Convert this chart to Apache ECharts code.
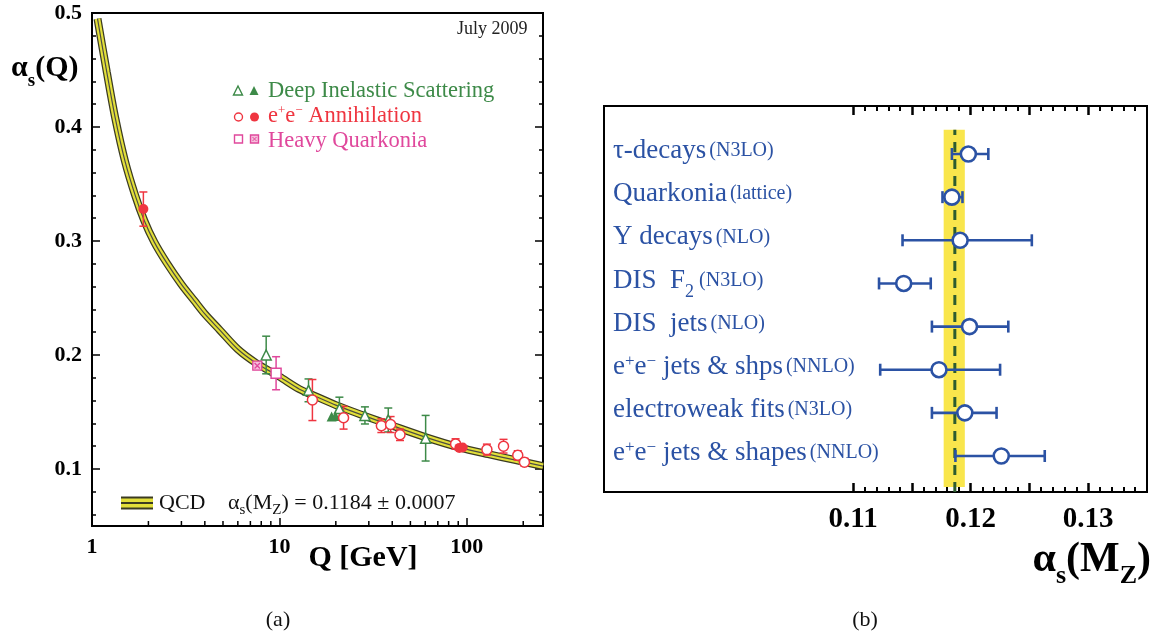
<!DOCTYPE html>
<html>
<head>
<meta charset="utf-8">
<title>alpha_s running</title>
<script src="https://cdn.jsdelivr.net/npm/echarts@6/dist/echarts.min.js"></script>
<style>
  html, body { margin: 0; padding: 0; background: #fff; }
  #main { width: 1157px; height: 637px; }
</style>
</head>
<body>
<div id="main"></div>
<script>
// ---------- (a) alpha_s(Q) ----------
// QCD band
var qcdQ = [1.07, 1.2, 1.33, 1.5, 1.7, 1.9, 2.15, 2.5, 3, 3.5, 4, 4.8, 6, 7.5, 10, 12.8, 16, 20, 28, 40, 60, 91, 130, 180, 255];
var qcdA = [0.495, 0.448, 0.408, 0.370, 0.340, 0.318, 0.299, 0.281, 0.262, 0.248, 0.236, 0.222, 0.205, 0.193, 0.181, 0.170, 0.163, 0.156, 0.147, 0.138, 0.128, 0.119, 0.113, 0.108, 0.1025];

// deep inelastic scattering
var disOpenQ = [8.5, 14.3, 20.9, 28.6, 38.1, 60.3];
var disOpenA = [0.200, 0.169, 0.153, 0.147, 0.143, 0.127];
var disOpenE = [0.0165, 0.010, 0.010, 0.0075, 0.0105, 0.020];
var disFullQ = [19.0, 19.9];
var disFullA = [0.146, 0.1465];

// e+e- annihilation
var eeOpenQ = [15.0, 22.0, 35.0, 39.2, 44.0, 87.1, 128, 157, 187, 203];
var eeOpenA = [0.1605, 0.145, 0.138, 0.139, 0.130, 0.122, 0.117, 0.120, 0.112, 0.106];
var eeOpenE = [0.018, 0.010, 0.006, 0.007, 0.005, 0.0045, 0.0048, 0.006, 0.004, 0.0033];
var eeFullQ = [1.88, 91.2, 95.0];
var eeFullA = [0.328, 0.1185, 0.1188];
var eeFullE = [0.015, 0, 0];

// heavy quarkonia
var hqOpenQ = [9.6];
var hqOpenA = [0.184];
var hqOpenE = [0.0145];
var hqCrossQ = [7.62];
var hqCrossA = [0.1906];

var xMinorTicksA = [2, 3, 4, 5, 6, 7, 8, 9, 20, 30, 40, 50, 60, 70, 80, 90, 200];
var xLabelsA = [1, 10, 100];
var yMajorA = [0.1, 0.2, 0.3, 0.4, 0.5];
var yMinorA = [0.06, 0.08, 0.12, 0.14, 0.16, 0.18, 0.22, 0.24, 0.26, 0.28, 0.32, 0.34, 0.36, 0.38, 0.42, 0.44, 0.46, 0.48];

// ---------- (b) alpha_s(MZ) summary ----------
var measLabels = [
  '{m|τ-decays} {s|(N3LO)}',
  '{m|Quarkonia} {s|(lattice)}',
  '{m|Υ decays} {s|(NLO)}',
  '{m|DIS  F}{sub|2}{s| (N3LO)}',
  '{m|DIS  jets} {s|(NLO)}',
  '{m|e}{sup|+}{m|e}{sup|−}{m| jets & shps} {s|(NNLO)}',
  '{m|electroweak fits} {s|(N3LO)}',
  '{m|e}{sup|+}{m|e}{sup|−}{m| jets & shapes} {s|(NNLO)}'
];
var measVal = [0.1198, 0.1184, 0.1191, 0.1143, 0.1199, 0.1173, 0.1195, 0.1226];
var measLo  = [0.1184, 0.1176, 0.1142, 0.1122, 0.1167, 0.1123, 0.1167, 0.1187];
var measHi  = [0.1215, 0.1193, 0.1252, 0.1166, 0.1232, 0.1225, 0.1222, 0.1263];
var worldAvg = 0.11865;
var bandLo = 0.1177, bandHi = 0.1195;
var xMajorB = [0.11, 0.115, 0.12, 0.125, 0.13];
var xMinorB = [0.111, 0.112, 0.113, 0.114, 0.116, 0.117, 0.118, 0.119, 0.121, 0.122, 0.123, 0.124,
               0.126, 0.127, 0.128, 0.129, 0.131, 0.132, 0.133, 0.134];
var xLabelsB = [0.11, 0.12, 0.13];

var SERIF = '"Liberation Serif", "Times New Roman", serif';
var GREEN = '#3d8a48', RED = '#ef3540', PINK = '#e0489c', BLUE = '#2b52a4';

var myChart = echarts.init(document.getElementById('main'));

function pts(xs, ys) { return xs.map(function (x, i) { return [x, ys[i]]; }); }
function vbars(xs, ys, es) {
  var out = [];
  xs.forEach(function (x, i) { if (es[i] > 0) out.push([x, ys[i] - es[i], ys[i] + es[i]]); });
  return out;
}
// vertical error bar with caps
function vErr(color) {
  return function (params, api) {
    var top = api.coord([api.value(0), api.value(2)]);
    var bot = api.coord([api.value(0), api.value(1)]);
    var w = 4, st = { stroke: color, lineWidth: 1.5 };
    return { type: 'group', children: [
      { type: 'line', shape: { x1: top[0], y1: top[1], x2: bot[0], y2: bot[1] }, style: st },
      { type: 'line', shape: { x1: top[0] - w, y1: top[1], x2: top[0] + w, y2: top[1] }, style: st },
      { type: 'line', shape: { x1: bot[0] - w, y1: bot[1], x2: bot[0] + w, y2: bot[1] }, style: st }
    ]};
  };
}
// horizontal error bar with caps
function hErr(params, api) {
  var l = api.coord([api.value(0), api.value(2)]);
  var r = api.coord([api.value(1), api.value(2)]);
  var h = 6, st = { stroke: BLUE, lineWidth: 2.6 };
  return { type: 'group', children: [
    { type: 'line', shape: { x1: l[0], y1: l[1], x2: r[0], y2: r[1] }, style: st },
    { type: 'line', shape: { x1: l[0], y1: l[1] - h, x2: l[0], y2: l[1] + h }, style: st },
    { type: 'line', shape: { x1: r[0], y1: r[1] - h, x2: r[0], y2: r[1] + h }, style: st }
  ]};
}

var nRows = measVal.length;
var rowMin = 0.1655, rowMax = 9.113, bandTop = 8.56, bandBot = 0.28;
var measBars = measVal.map(function (v, i) { return [measLo[i], measHi[i], nRows - i]; });
var measPts = measVal.map(function (v, i) { return [v, nRows - i]; });

var tickStyle = { color: '#000', width: 1.5 };
var option = {
  animation: false,
  grid: [
    { left: 92, top: 13, width: 451, height: 513, show: true, borderColor: '#000', borderWidth: 2, backgroundColor: 'transparent' },
    { left: 604, top: 106, width: 543, height: 386, show: true, borderColor: '#000', borderWidth: 2, backgroundColor: 'transparent' }
  ],
  xAxis: [
    { gridIndex: 0, type: 'log', logBase: 10, min: 1, max: 255, position: 'bottom',
      axisLine: { show: false }, splitLine: { show: false },
      axisTick: { inside: true, length: 8, lineStyle: tickStyle },
      axisLabel: { margin: 10, color: '#000', fontFamily: SERIF, fontWeight: 'bold', fontSize: 22,
        showMaxLabel: false,
        formatter: function (v) { return xLabelsA.indexOf(v) >= 0 ? String(v) : ''; } } },
    { gridIndex: 1, type: 'value', min: 0.0888, max: 0.135, position: 'bottom',
      axisLine: { show: false }, splitLine: { show: false },
      axisTick: { inside: true, length: 9, customValues: xMajorB, lineStyle: { color: '#000', width: 2.5 } },
      axisLabel: { customValues: xLabelsB, margin: 13, color: '#000', fontFamily: SERIF, fontWeight: 'bold', fontSize: 29,
        formatter: function (v) { return v.toFixed(2); } } },
    { gridIndex: 1, type: 'value', min: 0.0888, max: 0.135, position: 'bottom',
      axisLine: { show: false }, splitLine: { show: false }, axisLabel: { show: false },
      axisTick: { inside: true, length: 5, customValues: xMinorB, lineStyle: { color: '#000', width: 2 } } },
    { gridIndex: 1, type: 'value', min: 0.0888, max: 0.135, position: 'top',
      axisLine: { show: false }, splitLine: { show: false }, axisLabel: { show: false },
      axisTick: { inside: true, length: 9, customValues: xMajorB, lineStyle: { color: '#000', width: 2.5 } } },
    { gridIndex: 1, type: 'value', min: 0.0888, max: 0.135, position: 'top',
      axisLine: { show: false }, splitLine: { show: false }, axisLabel: { show: false },
      axisTick: { inside: true, length: 5, customValues: xMinorB, lineStyle: { color: '#000', width: 2 } } }
  ],
  yAxis: [
    { gridIndex: 0, type: 'value', min: 0.05, max: 0.5, position: 'left',
      axisLine: { show: false }, splitLine: { show: false },
      axisTick: { inside: true, length: 8, customValues: yMajorA, lineStyle: tickStyle },
      axisLabel: { customValues: yMajorA, margin: 10, color: '#000', fontFamily: SERIF, fontWeight: 'bold', fontSize: 22,
        formatter: function (v) { return v.toFixed(1); } } },
    { gridIndex: 0, type: 'value', min: 0.05, max: 0.5, position: 'left',
      axisLine: { show: false }, splitLine: { show: false }, axisLabel: { show: false },
      axisTick: { inside: true, length: 4, customValues: yMinorA, lineStyle: tickStyle } },
    { gridIndex: 0, type: 'value', min: 0.05, max: 0.5, position: 'right',
      axisLine: { show: false }, splitLine: { show: false }, axisLabel: { show: false },
      axisTick: { inside: true, length: 8, customValues: yMajorA, lineStyle: tickStyle } },
    { gridIndex: 0, type: 'value', min: 0.05, max: 0.5, position: 'right',
      axisLine: { show: false }, splitLine: { show: false }, axisLabel: { show: false },
      axisTick: { inside: true, length: 4, customValues: yMinorA, lineStyle: tickStyle } },
    { gridIndex: 1, type: 'value', min: rowMin, max: rowMax, position: 'left',
      axisLine: { show: false }, splitLine: { show: false }, axisTick: { show: false },
      axisLabel: { inside: true, margin: 9, customValues: [1, 2, 3, 4, 5, 6, 7, 8],
        padding: [0, 0, 6, 0],
        formatter: function (v) { return measLabels[nRows - v]; },
        color: BLUE, fontFamily: SERIF,
        rich: {
          m: { fontSize: 27, fontFamily: SERIF, color: BLUE },
          s: { fontSize: 20, fontFamily: SERIF, color: BLUE },
          sup: { fontSize: 17, fontFamily: SERIF, color: BLUE, verticalAlign: 'top' },
          sub: { fontSize: 18, fontFamily: SERIF, color: BLUE, verticalAlign: 'bottom', padding: [0, 0, -7, 0] }
        } } }
  ],
  series: [
    // QCD band: dark edges, yellow fill, dark centre line
    { type: 'line', z: 1, xAxisIndex: 0, yAxisIndex: 0, data: pts(qcdQ, qcdA), smooth: 0.3, symbol: 'none', silent: true,
      lineStyle: { color: '#3b3b22', width: 8 } },
    { type: 'line', z: 1, xAxisIndex: 0, yAxisIndex: 0, data: pts(qcdQ, qcdA), smooth: 0.3, symbol: 'none', silent: true,
      lineStyle: { color: '#e2df3a', width: 5.5 } },
    { type: 'line', z: 1, xAxisIndex: 0, yAxisIndex: 0, data: pts(qcdQ, qcdA), smooth: 0.3, symbol: 'none', silent: true,
      lineStyle: { color: '#4e4e42', width: 1.2 } },
    // error bars
    { type: 'custom', z: 3, xAxisIndex: 0, yAxisIndex: 0, renderItem: vErr(GREEN), data: vbars(disOpenQ, disOpenA, disOpenE), encode: { x: 0, y: [1, 2] }, silent: true },
    { type: 'custom', z: 3, xAxisIndex: 0, yAxisIndex: 0, renderItem: vErr(RED), data: vbars(eeOpenQ, eeOpenA, eeOpenE), encode: { x: 0, y: [1, 2] }, silent: true },
    { type: 'custom', z: 3, xAxisIndex: 0, yAxisIndex: 0, renderItem: vErr(RED), data: vbars(eeFullQ, eeFullA, eeFullE), encode: { x: 0, y: [1, 2] }, silent: true },
    { type: 'custom', z: 3, xAxisIndex: 0, yAxisIndex: 0, renderItem: vErr(PINK), data: vbars(hqOpenQ, hqOpenA, hqOpenE), encode: { x: 0, y: [1, 2] }, silent: true },
    // markers
    { type: 'scatter', z: 4, xAxisIndex: 0, yAxisIndex: 0, data: pts(disOpenQ, disOpenA), symbol: 'triangle', symbolSize: 10,
      itemStyle: { color: '#fff', borderColor: GREEN, borderWidth: 1.5, opacity: 1 } },
    { type: 'scatter', z: 4, xAxisIndex: 0, yAxisIndex: 0, data: pts(disFullQ, disFullA), symbol: 'triangle', symbolSize: 10,
      itemStyle: { color: GREEN, opacity: 1 } },
    { type: 'scatter', z: 4, xAxisIndex: 0, yAxisIndex: 0, data: pts(eeOpenQ, eeOpenA), symbol: 'circle', symbolSize: 10,
      itemStyle: { color: '#fff', borderColor: RED, borderWidth: 1.5, opacity: 1 } },
    { type: 'scatter', z: 4, xAxisIndex: 0, yAxisIndex: 0, data: pts(eeFullQ, eeFullA), symbol: 'circle', symbolSize: 10,
      itemStyle: { color: RED, opacity: 1 } },
    { type: 'scatter', z: 4, xAxisIndex: 0, yAxisIndex: 0, data: pts(hqOpenQ, hqOpenA), symbol: 'rect', symbolSize: 10,
      itemStyle: { color: '#fff', borderColor: PINK, borderWidth: 1.5, opacity: 1 } },
    { type: 'scatter', z: 4, xAxisIndex: 0, yAxisIndex: 0, data: pts(hqCrossQ, hqCrossA),
      symbol: 'path://M0,0H10V10H0Z M2,2L8,8 M8,2L2,8', symbolSize: 9,
      itemStyle: { color: '#f6bfdc', borderColor: PINK, borderWidth: 1.3, opacity: 1 } },
    // minor log ticks on the bottom axis of (a)
    { type: 'scatter', z: 4, xAxisIndex: 0, yAxisIndex: 0, silent: true, clip: false,
      data: xMinorTicksA.map(function (q) { return [q, 0.05]; }),
      symbol: 'rect', symbolSize: [1.5, 5], symbolOffset: [0, -2.5], itemStyle: { color: '#000', opacity: 1 } },

    // ---- (b) ----
    { type: 'custom', z: 1, xAxisIndex: 1, yAxisIndex: 4, silent: true,
      data: [[bandLo, bandHi, bandBot, bandTop]], encode: { x: [0, 1], y: [2, 3] },
      renderItem: function (params, api) {
        var p1 = api.coord([api.value(0), api.value(3)]);
        var p2 = api.coord([api.value(1), api.value(2)]);
        return { type: 'rect', shape: { x: p1[0], y: p1[1], width: p2[0] - p1[0], height: p2[1] - p1[1] },
                 style: { fill: '#f9e64c' } };
      } },
    { type: 'line', z: 2, xAxisIndex: 1, yAxisIndex: 4, silent: true, symbol: 'none',
      data: [[worldAvg, rowMin], [worldAvg, bandTop]],
      lineStyle: { color: '#2d5c2f', width: 3, type: [10, 7] } },
    { type: 'custom', z: 3, xAxisIndex: 1, yAxisIndex: 4, renderItem: hErr, data: measBars, encode: { x: [0, 1], y: 2 }, silent: true },
    { type: 'scatter', z: 4, xAxisIndex: 1, yAxisIndex: 4, data: measPts, symbol: 'circle', symbolSize: 15,
      itemStyle: { color: '#fff', borderColor: BLUE, borderWidth: 2.6, opacity: 1 } }
  ],
  graphic: [
    // y-axis title of (a)
    { type: 'text', x: 11, y: 68, style: { text: '{a|α}{s|s}{a|(Q)}', verticalAlign: 'middle', fill: '#000',
        rich: { a: { fontSize: 30, fontWeight: 'bold', fontFamily: SERIF, fill: '#000' },
                s: { fontSize: 19, fontWeight: 'bold', fontFamily: SERIF, fill: '#000', verticalAlign: 'bottom', padding: [0, 0, -8, 0] } } } },
    { type: 'text', x: 457, y: 29, style: { text: 'July 2009', fontSize: 18, fontFamily: SERIF, fill: '#222', verticalAlign: 'middle' } },
    // legend of (a)
    { type: 'polygon', shape: { points: [[238, 86], [233.5, 95], [242.5, 95]] }, style: { fill: '#fff', stroke: GREEN, lineWidth: 1.4 } },
    { type: 'polygon', shape: { points: [[254, 86], [249.5, 95], [258.5, 95]] }, style: { fill: GREEN } },
    { type: 'text', x: 268, y: 91, style: { text: 'Deep Inelastic Scattering', fontSize: 22.5, fontFamily: SERIF, fill: GREEN, verticalAlign: 'middle' } },
    { type: 'circle', shape: { cx: 238.5, cy: 117, r: 4 }, style: { fill: '#fff', stroke: RED, lineWidth: 1.4 } },
    { type: 'circle', shape: { cx: 254.5, cy: 117, r: 4.5 }, style: { fill: RED } },
    { type: 'text', x: 268, y: 116, style: { text: 'e{p|+}e{p|−} Annihilation', fontSize: 22.5, fontFamily: SERIF, fill: RED, verticalAlign: 'middle',
        rich: { p: { fontSize: 13, fontFamily: SERIF, fill: RED, verticalAlign: 'top' } } } },
    { type: 'rect', shape: { x: 234.5, y: 135, width: 8, height: 8 }, style: { fill: '#fff', stroke: PINK, lineWidth: 1.4 } },
    { type: 'rect', shape: { x: 250.5, y: 135, width: 8, height: 8 }, style: { fill: '#f6bfdc', stroke: PINK, lineWidth: 1.4 } },
    { type: 'line', shape: { x1: 252.5, y1: 137, x2: 256.5, y2: 141 }, style: { stroke: PINK, lineWidth: 1 } },
    { type: 'line', shape: { x1: 256.5, y1: 137, x2: 252.5, y2: 141 }, style: { stroke: PINK, lineWidth: 1 } },
    { type: 'text', x: 268, y: 141, style: { text: 'Heavy Quarkonia', fontSize: 22.5, fontFamily: SERIF, fill: PINK, verticalAlign: 'middle' } },
    // QCD legend
    { type: 'rect', shape: { x: 121, y: 497, width: 32, height: 12 }, style: { fill: '#e2df3a' } },
    { type: 'rect', shape: { x: 121, y: 496.5, width: 32, height: 2 }, style: { fill: '#3b3b22' } },
    { type: 'rect', shape: { x: 121, y: 502, width: 32, height: 2 }, style: { fill: '#3b3b22' } },
    { type: 'rect', shape: { x: 121, y: 507.5, width: 32, height: 2 }, style: { fill: '#3b3b22' } },
    { type: 'text', x: 159, y: 503, style: { text: 'QCD', fontSize: 22, fontFamily: SERIF, fill: '#111', verticalAlign: 'middle' } },
    { type: 'text', x: 228, y: 503, style: { text: 'α{q|s}(M{q|Z}) = 0.1184 ± 0.0007', fontSize: 22, fontFamily: SERIF, fill: '#111', verticalAlign: 'middle',
        rich: { q: { fontSize: 15, fontFamily: SERIF, fill: '#111', verticalAlign: 'bottom', padding: [0, 0, -4, 0] } } } },
    // x-axis title of (a)
    { type: 'text', x: 363, y: 558, style: { text: 'Q [GeV]', fontSize: 30, fontWeight: 'bold', fontFamily: SERIF, fill: '#000', align: 'center', verticalAlign: 'middle' } },
    // x-axis title of (b)
    { type: 'text', x: 1151, y: 560, style: { text: '{a|α}{s|s}{a|(M}{s|Z}{a|)}', align: 'right', verticalAlign: 'middle',
        rich: { a: { fontSize: 42, fontWeight: 'bold', fontFamily: SERIF, fill: '#000' },
                s: { fontSize: 26, fontWeight: 'bold', fontFamily: SERIF, fill: '#000', verticalAlign: 'bottom', padding: [0, 0, -8, 0] } } } },
    { type: 'text', x: 278, y: 620, style: { text: '(a)', fontSize: 22, fontFamily: SERIF, fill: '#111', align: 'center', verticalAlign: 'middle' } },
    { type: 'text', x: 865, y: 620, style: { text: '(b)', fontSize: 22, fontFamily: SERIF, fill: '#111', align: 'center', verticalAlign: 'middle' } }
  ]
};
myChart.setOption(option);
</script>
</body>
</html>
